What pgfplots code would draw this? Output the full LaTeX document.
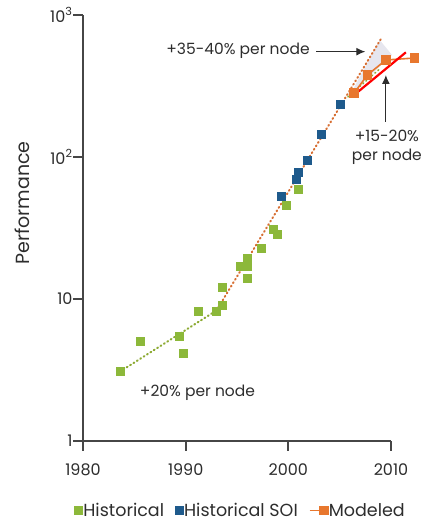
\documentclass[border=0pt]{standalone}
\usepackage{pgfplots}
\pgfplotsset{compat=1.18}
\usepackage{fontspec}
\setmainfont{Poppins}
\usetikzlibrary{arrows.meta}
\definecolor{hgreen}{RGB}{140,184,58}
\definecolor{hblue}{RGB}{30,90,140}
\definecolor{morange}{RGB}{232,119,46}
\definecolor{dorange}{RGB}{215,110,50}
\definecolor{dgreen}{RGB}{140,170,50}
\definecolor{axgray}{RGB}{70,70,70}
\definecolor{txtgray}{RGB}{45,45,45}
\definecolor{shade}{RGB}{230,230,238}
\begin{document}
\begin{tikzpicture}
\path[use as bounding box] (-83pt,-82pt) rectangle (338pt,441pt);
\begin{axis}[
  scale only axis, width=308pt, height=426pt,
  xmin=1980, xmax=2010, ymin=1, ymax=1000,
  ymode=log, clip=false,
  axis x line*=bottom, axis y line*=left,
  axis line style={-, draw=axgray, line width=1.8pt},
  every tick/.style={draw=axgray, line width=1.8pt},
  tick align=outside, major tick length=10pt,
  yminorticks=false, xminorticks=false,
  xtick={1980,1990,2000,2010},
  ytick={1,10,100,1000},
  yticklabels={1,10,10\textsuperscript{2},10\textsuperscript{3}},
  xticklabel style={/pgf/number format/1000 sep={}, font=\fontsize{16}{18}\selectfont, text=txtgray, yshift=-9pt},
  yticklabel style={font=\fontsize{16}{18}\selectfont, text=txtgray, xshift=3pt},
  /pgf/number format/assume math mode=true,
  ylabel={Performance},
  ylabel style={at={(axis description cs:-0.198,0.559)}, anchor=center, font=\fontsize{19}{21}\selectfont, text=txtgray},
  legend columns=3,
  legend style={at={(axis description cs:0.51,-0.1635)}, anchor=center, draw=none, fill=none,
    font=\fontsize{17.5}{19}\selectfont, text=txtgray,
    /tikz/every even column/.append style={column sep=10pt},
    inner sep=0pt, nodes={inner sep=1pt}},
  legend cell align=left,
]
% shaded wedge
\addplot[fill=shade, draw=none, forget plot] coordinates {(2006.0,273) (2008.9,667) (2010.1,523)} -- cycle;
% trend lines
\addplot[dgreen, line width=2pt, dash pattern=on 1pt off 3pt, line cap=round, forget plot] coordinates {(1983.6,3.08) (1993.0,8.3)};
\addplot[dorange, line width=2pt, dash pattern=on 1pt off 3pt, line cap=round, forget plot] coordinates {(1993.0,8.3) (2009.0,674)};
\addplot[dgreen, line width=1.6pt, dash pattern=on 1pt off 3pt, line cap=round, forget plot] coordinates {(2005.8,265) (2008.9,417)};
% historical
\addplot[only marks, mark=square*, mark size=4pt, color=hgreen] coordinates {
(1983.6,3.08) (1985.6,5.04) (1989.8,4.15) (1989.4,5.49) (1991.2,8.14) (1993.0,8.14)
(1993.6,9.08) (1993.6,12.2) (1995.3,17.1) (1996.0,17.1) (1996.0,19.4) (1996.0,14.0)
(1997.4,22.8) (1998.5,31.0) (1998.9,28.5) (1999.8,45.9) (2001.0,59.2)};
\addlegendentry{Historical}
\addplot[only marks, mark=square*, mark size=4pt, color=hblue] coordinates {
(1999.3,53.1) (2000.8,69.7) (2001.0,77.8) (2001.8,94.2) (2003.2,144.5) (2005.1,235)};
\addlegendentry{Historical SOI}
\addplot[color=morange, line width=1.6pt, mark=square*, mark size=4pt,
  legend image code/.code={\draw[mark repeat=2,mark phase=2] plot coordinates {(0cm,0cm)(0.5cm,0cm)};}] coordinates {
(2006.4,281) (2007.7,378) (2009.5,482) (2012.3,498)};
\addlegendentry{Modeled}
% red line
\addplot[red, line width=2.2pt, forget plot] coordinates {(2006.4,273) (2011.45,546)};
% annotations
\node[font=\fontsize{15.5}{17}\selectfont, text=txtgray] at (axis cs:1995.1,557) {+35-40\% per node};
\draw[-{Latex[length=9pt,width=8pt]}, line width=1.2pt, txtgray] (axis cs:2002.7,552) -- (axis cs:2007.5,552);
\draw[-{Latex[length=9pt,width=8pt]}, line width=1.2pt, txtgray] (axis cs:2009.5,177) -- (axis cs:2009.5,378);
\node[font=\fontsize{15.5}{17}\selectfont, text=txtgray] at (axis cs:2009.6,140.6) {+15-20\%};
\node[font=\fontsize{15.5}{17}\selectfont, text=txtgray] at (axis cs:2009.6,100) {per node};
\node[font=\fontsize{15.5}{17}\selectfont, text=txtgray, anchor=west] at (axis cs:1985.2,2.17) {+20\% per node};
\end{axis}
\end{tikzpicture}
\end{document}
